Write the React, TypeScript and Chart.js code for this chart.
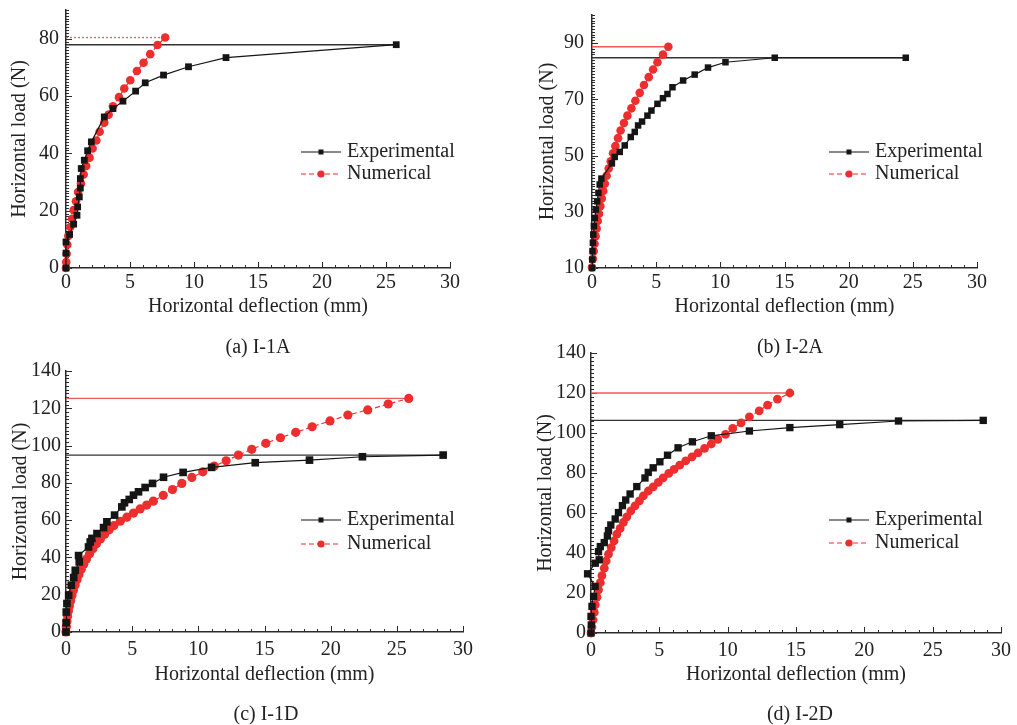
import React, { useEffect, useRef } from "react";
import { Chart, registerables } from "chart.js";

Chart.register(...registerables);

const FONT_FAMILY = "'Liberation Serif', 'Times New Roman', Times, serif";
const TEXT = "#222222";
const AXIS = "#2b2b2b";
const BLACK = "#151515";
const RED = "#ec2e2e";
const RED_LINE = "#f05a5a";

// ---------------- data ----------------
const xTicks = [0, 5, 10, 15, 20, 25, 30];
const yTicksA = [0, 20, 40, 60, 80];
const yTicksB = [10, 30, 50, 70, 90];
const yTicksCD = [0, 20, 40, 60, 80, 100, 120, 140];

const seriesLabels = ["Experimental", "Numerical"];
const xTitle = "Horizontal deflection (mm)";
const yTitle = "Horizontal load (N)";
const captions = ["(a) I-1A", "(b) I-2A", "(c) I-1D", "(d) I-2D"];

// (a) I-1A
const aExpX = [0, 0, 0, 0.28, 0.6, 0.86, 0.91, 1.04, 1.12, 1.12, 1.19, 1.43, 1.69, 1.98, 2.99, 3.67, 4.45, 5.44, 6.19, 7.62, 9.57, 12.5, 25.8];
const aExpY = [0, 5.2, 9.1, 11.7, 15.3, 18.4, 21.3, 24.8, 27.9, 31.2, 34.7, 37.6, 40.9, 44, 52.7, 55.6, 58.2, 61.7, 64.6, 67.3, 70.2, 73.4, 77.9];
const aNumX = [0, 0.02, 0.05, 0.1, 0.18, 0.34, 0.47, 0.6, 0.78, 0.94, 1.17, 1.38, 1.58, 1.84, 2.08, 2.37, 2.63, 2.99, 3.33, 3.67, 4.14, 4.55, 5.02, 5.54, 6.06, 6.58, 7.15, 7.75];
const aNumY = [0, 2.1, 5, 8.1, 11.2, 14.3, 17.2, 20.2, 23.3, 26.5, 29.5, 32.6, 35.6, 38.5, 41.7, 44.5, 47.5, 50.7, 53.5, 56.4, 59.6, 62.6, 65.5, 68.7, 71.6, 74.6, 77.8, 80.4];

// (b) I-2A
const bExpX = [0, 0.02, 0.04, 0.07, 0.1, 0.15, 0.22, 0.3, 0.4, 0.5, 0.6, 0.73, 1.55, 1.77, 2.16, 2.55, 3.02, 3.33, 3.59, 3.9, 4.32, 4.63, 5.1, 5.53, 5.88, 6.27, 7.1, 8.0, 9.04, 10.4, 14.24, 24.45];
const bExpY = [10, 13, 16, 19, 21.9, 24.9, 27.8, 30.8, 33.7, 36.7, 39.7, 41.8, 47.2, 49.5, 51.3, 53.6, 56.6, 58.4, 60.7, 62.1, 64.2, 66, 68.4, 70.4, 71.9, 74.3, 76.7, 78.8, 81.3, 83.2, 84.8, 84.8];
const bNumX = [0, 0.07, 0.13, 0.2, 0.28, 0.36, 0.45, 0.55, 0.65, 0.76, 0.88, 1.0, 1.14, 1.3, 1.46, 1.64, 1.82, 2.03, 2.23, 2.49, 2.76, 3.07, 3.38, 3.72, 4.05, 4.42, 4.76, 5.1, 5.53, 5.95];
const bNumY = [10.2, 13.3, 16, 18.6, 21.3, 24, 26.7, 29.3, 32, 34.7, 37.4, 40, 42.8, 45.4, 48, 50.8, 53.4, 56.2, 58.9, 61.6, 64.2, 66.8, 69.5, 72.3, 75.1, 77.9, 80.6, 83.2, 85.9, 88.7];

// (c) I-1D
const cExpX = [0, 0.01, 0.02, 0.07, 0.2, 0.4, 0.58, 0.7, 1.0, 0.95, 1.7, 1.83, 1.96, 2.34, 2.84, 3.09, 3.67, 4.22, 4.42, 4.78, 5.1, 5.48, 5.98, 6.54, 7.37, 8.85, 11.0, 14.3, 18.4, 22.4, 28.5];
const cExpY = [0, 5, 10.7, 15.3, 19.7, 25.1, 29.2, 33.1, 37.6, 41, 45.6, 48.3, 50.2, 52.8, 56, 59.1, 62.7, 67.1, 69.3, 71.1, 73.4, 75.2, 77.5, 79.7, 83, 85.6, 88.3, 90.8, 92.2, 94, 94.9];
const cNumX = [0, 0.03, 0.07, 0.12, 0.18, 0.26, 0.35, 0.45, 0.56, 0.69, 0.83, 0.98, 1.15, 1.34, 1.55, 1.78, 2.03, 2.3, 2.6, 2.92, 3.26, 3.62, 4.1, 4.6, 5.1, 5.6, 6.1, 6.6, 7.35, 8.05, 8.75, 9.51, 10.34, 11.2, 12.1, 13.03, 14.04, 15.1, 16.2, 17.36, 18.6, 19.95, 21.3, 22.8, 24.35, 25.9];
const cNumY = [0, 2.8, 5.6, 8.4, 11.2, 14, 16.8, 19.6, 22.4, 25.2, 28, 30.8, 33.6, 36.4, 39.2, 42, 44.7, 47.3, 49.9, 52.4, 54.9, 57.1, 59.4, 61.6, 63.8, 66, 68.1, 70.2, 73.3, 76.4, 79.7, 82.9, 85.9, 89, 91.8, 94.9, 98, 101.2, 104.2, 107.1, 110.1, 113.2, 116.4, 119.1, 122.3, 125.3];

// (d) I-2D
const dExpX = [0, 0.02, 0, 0.07, 0.19, 0.3, -0.25, 0.31, 0.6, 0.55, 0.68, 0.97, 1.2, 1.28, 1.45, 1.77, 2.01, 2.3, 2.54, 2.86, 3.35, 3.95, 4.19, 4.55, 5.04, 5.6, 6.37, 7.42, 8.8, 11.59, 14.55, 18.2, 22.5, 28.7];
const dExpY = [0, 4, 8.3, 13.3, 18.3, 23.3, 29.6, 34.9, 36.6, 40.7, 43.2, 45.2, 48.5, 51.2, 54, 57, 60.2, 63.7, 66.5, 69.5, 73.2, 77.5, 80.3, 82.6, 85.6, 88.9, 92.6, 95.6, 98.6, 101, 102.7, 104.2, 106, 106.3];
const dNumX = [0, 0.07, 0.15, 0.24, 0.31, 0.44, 0.55, 0.68, 0.8, 0.97, 1.11, 1.28, 1.48, 1.69, 1.89, 2.13, 2.37, 2.62, 2.91, 3.22, 3.54, 3.83, 4.19, 4.55, 4.92, 5.28, 5.69, 6.08, 6.49, 6.93, 7.39, 7.83, 8.31, 8.8, 9.28, 9.84, 10.37, 10.98, 11.59, 12.31, 12.92, 13.64, 14.55];
const dNumY = [0, 3, 6.6, 10.3, 14.1, 17.9, 21.6, 25.2, 28.7, 32.4, 36, 39.4, 42.7, 46, 49.4, 52.3, 55.3, 58.1, 61, 63.6, 66.1, 68.6, 71, 73.1, 75.3, 77.6, 79.8, 81.8, 83.9, 86.1, 88.1, 90.1, 92.3, 94.5, 96.8, 99.3, 102.3, 105.1, 108.1, 111.1, 113.9, 116.9, 120];

// ---------------- layout / style per panel ----------------
type Panel = {
  key: string;
  caption: string;
  capX: number;
  capY: number;
  left: number;
  top: number;
  width: number;
  height: number;
  pad: { left: number; top: number; right: number; bottom: number };
  yWidth: number;
  xHeight: number;
  yMin: number;
  yMax: number;
  yTicks: number[];
  yMinor: number;
  yTickPad: number;
  xTickPad: number;
  yTitlePad: number;
  sq: number;
  dot: number;
  expX: number[];
  expY: number[];
  numX: number[];
  numY: number[];
  numPeakDash: number[];
  legend: { x1: number; x2: number; tx: number; y1: number; y2: number };
};

const panels: Panel[] = [
  {
    key: "a", caption: captions[0], capX: 258, capY: 346,
    left: 0, top: -20, width: 505, height: 350,
    pad: { left: 0, top: 30, right: 55, bottom: 11 },
    yWidth: 66, xHeight: 51, yMin: 0, yMax: 90, yTicks: yTicksA, yMinor: 1,
    yTickPad: 7, xTickPad: 3, yTitlePad: 8, sq: 4.8, dot: 4.3,
    expX: aExpX, expY: aExpY, numX: aNumX, numY: aNumY, numPeakDash: [2, 2],
    legend: { x1: 301, x2: 341, tx: 347, y1: 152, y2: 174 },
  },
  {
    key: "b", caption: captions[1], capX: 790, capY: 346,
    left: 520, top: -20, width: 497, height: 350,
    pad: { left: 0, top: 35, right: 40, bottom: 11 },
    yWidth: 72, xHeight: 51, yMin: 10, yMax: 100, yTicks: yTicksB, yMinor: 1,
    yTickPad: 8, xTickPad: 3, yTitlePad: 15.5, sq: 4.6, dot: 4.3,
    expX: bExpX, expY: bExpY, numX: bNumX, numY: bNumY, numPeakDash: [],
    legend: { x1: 829, x2: 869, tx: 875, y1: 152, y2: 174 },
  },
  {
    key: "c", caption: captions[2], capX: 266, capY: 713,
    left: 0, top: 340, width: 505, height: 385,
    pad: { left: 0, top: 31, right: 42, bottom: 38 },
    yWidth: 66, xHeight: 55, yMin: 0, yMax: 140, yTicks: yTicksCD, yMinor: 2,
    yTickPad: 5, xTickPad: 6, yTitlePad: 8.5, sq: 5.4, dot: 4.6,
    expX: cExpX, expY: cExpY, numX: cNumX, numY: cNumY, numPeakDash: [],
    legend: { x1: 301, x2: 341, tx: 347, y1: 520, y2: 544 },
  },
  {
    key: "d", caption: captions[3], capX: 800, capY: 713,
    left: 520, top: 330, width: 497, height: 395,
    pad: { left: 0, top: 23, right: 14, bottom: 38 },
    yWidth: 71, xHeight: 54, yMin: 0, yMax: 140, yTicks: yTicksCD, yMinor: 2,
    yTickPad: 5, xTickPad: 6, yTitlePad: 13.5, sq: 5.2, dot: 4.4,
    expX: dExpX, expY: dExpY, numX: dNumX, numY: dNumY, numPeakDash: [],
    legend: { x1: 829, x2: 869, tx: 875, y1: 520, y2: 543 },
  },
];

function pts(xs: number[], ys: number[]) {
  const n = Math.min(xs.length, ys.length);
  const out: { x: number; y: number }[] = [];
  for (let i = 0; i < n; i++) out.push({ x: xs[i], y: ys[i] });
  return out;
}

function peakLine(xs: number[], ys: number[]) {
  const i = Math.min(xs.length, ys.length) - 1;
  return [{ x: 0, y: ys[i] }, { x: xs[i], y: ys[i] }];
}

function font(size: number) {
  return { family: FONT_FAMILY, size, lineHeight: 1.2 };
}

function makeDecor(p: Panel) {
  return {
    id: "decor_" + p.key,
    beforeDatasetsDraw(chart: any) {
      const { ctx, chartArea } = chart;
      const xs = chart.scales.x;
      const ys = chart.scales.y;
      ctx.save();
      ctx.strokeStyle = AXIS;
      ctx.lineWidth = 1;
      ctx.beginPath();
      const xMinor = 1;
      const nx = Math.round((xs.max - xs.min) / xMinor);
      for (let i = 0; i <= nx; i++) {
        const v = xs.min + i * xMinor;
        const px = Math.round(xs.getPixelForValue(v)) + 0.5;
        const len = i % 5 === 0 ? 6 : 3;
        ctx.moveTo(px, chartArea.bottom);
        ctx.lineTo(px, chartArea.bottom - len);
      }
      const ny = Math.round((ys.max - ys.min) / p.yMinor);
      const every = Math.round(20 / p.yMinor);
      for (let i = 0; i <= ny; i++) {
        const v = ys.min + i * p.yMinor;
        const py = Math.round(ys.getPixelForValue(v)) + 0.5;
        const len = i % every === 0 ? 6 : 3;
        ctx.moveTo(chartArea.left, py);
        ctx.lineTo(chartArea.left + len, py);
      }
      ctx.stroke();
      ctx.restore();
    },
    afterDraw(chart: any) {
      const { ctx } = chart;
      const L = p.legend;
      const x1 = L.x1 - p.left;
      const x2 = L.x2 - p.left;
      const tx = L.tx - p.left;
      const y1 = L.y1 - p.top;
      const y2 = L.y2 - p.top;
      const mx = (x1 + x2) / 2;
      const ds = chart.data.datasets;
      ctx.save();
      ctx.strokeStyle = BLACK;
      ctx.lineWidth = 1.2;
      ctx.setLineDash([]);
      ctx.beginPath();
      ctx.moveTo(x1, y1);
      ctx.lineTo(x2, y1);
      ctx.stroke();
      ctx.fillStyle = BLACK;
      ctx.fillRect(mx - 2.5, y1 - 2.5, 5, 5);
      ctx.strokeStyle = RED;
      ctx.setLineDash([5, 3]);
      ctx.beginPath();
      ctx.moveTo(x1, y2);
      ctx.lineTo(x2, y2);
      ctx.stroke();
      ctx.setLineDash([]);
      ctx.fillStyle = RED;
      ctx.beginPath();
      ctx.arc(mx, y2, 3.6, 0, Math.PI * 2);
      ctx.fill();
      ctx.fillStyle = TEXT;
      ctx.font = `20px ${FONT_FAMILY}`;
      ctx.textAlign = "left";
      ctx.textBaseline = "middle";
      ctx.fillText(ds[0].label, tx, y1);
      ctx.fillText(ds[1].label, tx, y2);
      ctx.restore();
    },
  };
}

function buildConfig(p: Panel): any {
  return {
    type: "scatter",
    data: {
      datasets: [
        {
          label: seriesLabels[0],
          data: pts(p.expX, p.expY),
          showLine: true,
          borderColor: BLACK,
          backgroundColor: BLACK,
          pointBackgroundColor: BLACK,
          borderWidth: 1.2,
          pointStyle: "rect",
          pointRadius: p.sq,
          pointBorderWidth: 0,
          clip: false,
          order: 0,
        },
        {
          label: seriesLabels[1],
          data: pts(p.numX, p.numY),
          showLine: true,
          borderColor: RED,
          backgroundColor: RED,
          pointBackgroundColor: RED,
          borderWidth: 1.2,
          borderDash: [5, 3],
          pointStyle: "circle",
          pointRadius: p.dot,
          pointBorderWidth: 0,
          clip: false,
          order: 1,
        },
        {
          label: "",
          data: peakLine(p.expX, p.expY),
          showLine: true,
          borderColor: "#333333",
          borderWidth: 1.4,
          pointRadius: 0,
          order: 2,
        },
        {
          label: "",
          data: peakLine(p.numX, p.numY),
          showLine: true,
          borderColor: RED_LINE,
          borderWidth: 1.3,
          borderDash: p.numPeakDash,
          pointRadius: 0,
          order: 3,
        },
      ],
    },
    options: {
      responsive: false,
      animation: false,
      events: [],
      layout: { padding: p.pad },
      plugins: {
        legend: { display: false },
        tooltip: { enabled: false },
      },
      scales: {
        x: {
          type: "linear",
          position: "bottom",
          min: 0,
          max: 30,
          afterBuildTicks: (s: any) => {
            s.ticks = xTicks.map((v) => ({ value: v }));
          },
          afterFit: (s: any) => {
            s.height = p.xHeight;
          },
          grid: { display: false, drawTicks: false },
          border: { display: true, color: AXIS, width: 1.5 },
          ticks: {
            color: TEXT,
            font: font(20),
            padding: p.xTickPad,
            maxRotation: 0,
            autoSkip: false,
          },
          title: {
            display: true,
            text: xTitle,
            color: TEXT,
            font: font(20),
            padding: { top: 0, bottom: 0 },
          },
        },
        y: {
          type: "linear",
          position: "left",
          min: p.yMin,
          max: p.yMax,
          afterBuildTicks: (s: any) => {
            s.ticks = p.yTicks.map((v) => ({ value: v }));
          },
          afterFit: (s: any) => {
            s.width = p.yWidth;
          },
          grid: { display: false, drawTicks: false },
          border: { display: true, color: AXIS, width: 1.5 },
          ticks: {
            color: TEXT,
            font: font(20),
            padding: p.yTickPad,
            autoSkip: false,
          },
          title: {
            display: true,
            text: yTitle,
            color: TEXT,
            font: font(20),
            padding: { top: p.yTitlePad, bottom: 0 },
          },
        },
      },
    },
    plugins: [makeDecor(p)],
  };
}

function PanelChart({ p }: { p: Panel }) {
  const ref = useRef<HTMLCanvasElement | null>(null);
  useEffect(() => {
    if (!ref.current) return;
    const chart = new Chart(ref.current, buildConfig(p));
    return () => chart.destroy();
  }, [p]);
  return (
    <canvas
      ref={ref}
      width={p.width}
      height={p.height}
      style={{ position: "absolute", left: p.left, top: p.top, width: p.width, height: p.height }}
    />
  );
}

export default function App() {
  return (
    <div
      style={{
        position: "fixed",
        left: 0,
        top: 0,
        width: 1017,
        height: 725,
        background: "#ffffff",
        overflow: "hidden",
      }}
    >
      {panels.map((p) => (
        <PanelChart key={p.key} p={p} />
      ))}
      {panels.map((p) => (
        <div
          key={"cap" + p.key}
          style={{
            position: "absolute",
            left: p.capX - 100,
            top: p.capY - 12,
            width: 200,
            height: 24,
            lineHeight: "24px",
            textAlign: "center",
            fontFamily: FONT_FAMILY,
            fontSize: 20,
            color: TEXT,
            zIndex: 2,
          }}
        >
          {p.caption}
        </div>
      ))}
    </div>
  );
}
